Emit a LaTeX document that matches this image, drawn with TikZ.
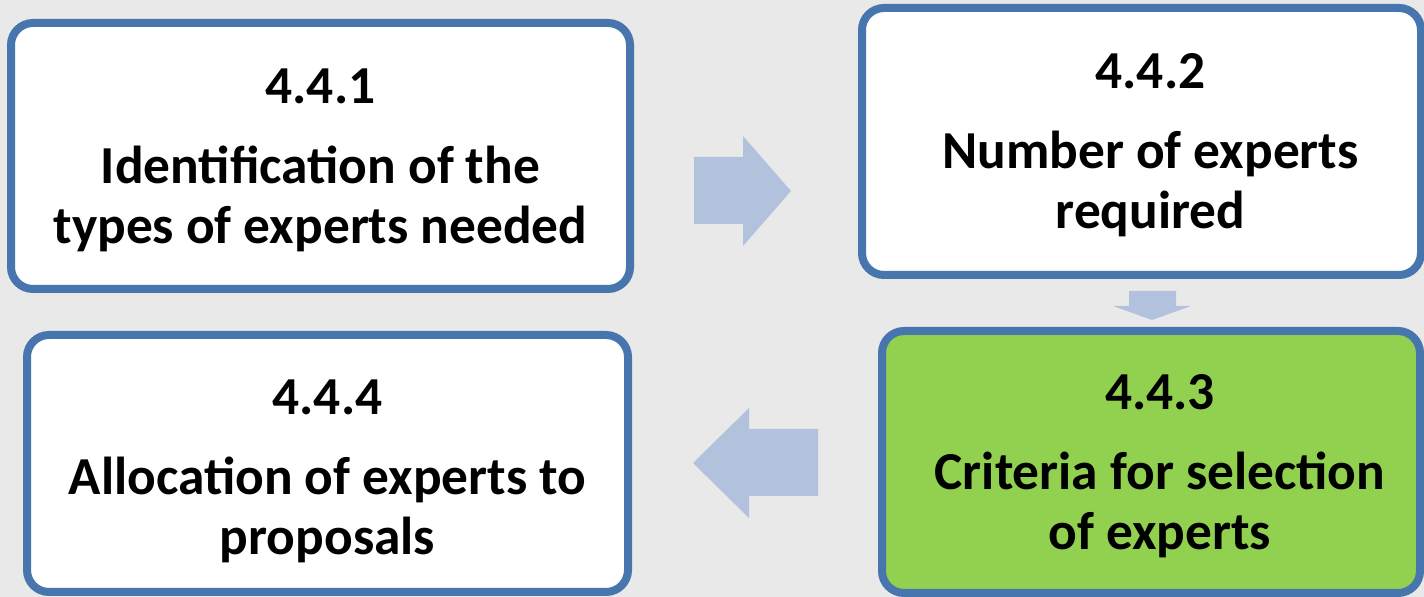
\documentclass[tikz,border=0pt]{standalone}
\usepackage{fontspec}
\setmainfont{Carlito}
\usepackage{xcolor}
\usepackage{tikz}
\usetikzlibrary{calc}
\definecolor{bordblue}{HTML}{4775AD}
\definecolor{arrowblue}{HTML}{B2C2DC}
\definecolor{leafgreen}{HTML}{92D050}
\definecolor{backgrey}{HTML}{E9E9E9}
\tikzset{
	stage/.style={draw=bordblue,line width=4pt,rounded corners=11pt,fill=white,align=center,
		font=\fontsize{26.7}{30}\selectfont\bfseries,inner sep=0pt},
	blockarrow/.style={fill=arrowblue}
}

\begin{document}
\begin{tikzpicture}[x=0.5pt,y=-0.5pt]
	\fill[backgrey] (0,0) rectangle (1424,597);
	\useasboundingbox (0,0) rectangle (1424,597);
	% boxes
	\node[stage,minimum width=309.5pt,minimum height=133pt] (ident) at (320.5,156) {\rule{0pt}{22pt}4.4.1\\[10pt]Identification of the\\types of experts needed};
	\node[stage,minimum width=279.5pt,minimum height=133.5pt] (number) at (1141.5,141.5) {\rule{0pt}{21pt}\hspace*{9pt}4.4.2\\[10pt]\hspace*{9pt}Number of experts\\\hspace*{9pt}required};
	\node[stage,fill=leafgreen,minimum width=269pt,minimum height=131pt] (criteria) at (1151,462) {\rule{0pt}{22pt}\hspace*{9pt}4.4.3\\[10pt]\hspace*{9pt}Criteria for selection\\\hspace*{9pt}of experts};
	\node[stage,minimum width=300.5pt,minimum height=128.5pt] (alloc) at (327.5,463.5) {\rule{0pt}{25pt}4.4.4\\[10pt]Allocation of experts to\\proposals};
	% arrows
	\fill[blockarrow] (694,157) -- (743,157) -- (743,136) -- (791,191) -- (743,246) -- (743,224) -- (694,224) -- cycle;
	\fill[blockarrow] (1129,291) -- (1176,291) -- (1176,306) -- (1191,306) -- (1152,320) -- (1113,306) -- (1129,306) -- cycle;
	\fill[blockarrow] (818,429) -- (749,429) -- (749,408) -- (693,463) -- (749,518) -- (749,496) -- (818,496) -- cycle;
\end{tikzpicture}
\end{document}
